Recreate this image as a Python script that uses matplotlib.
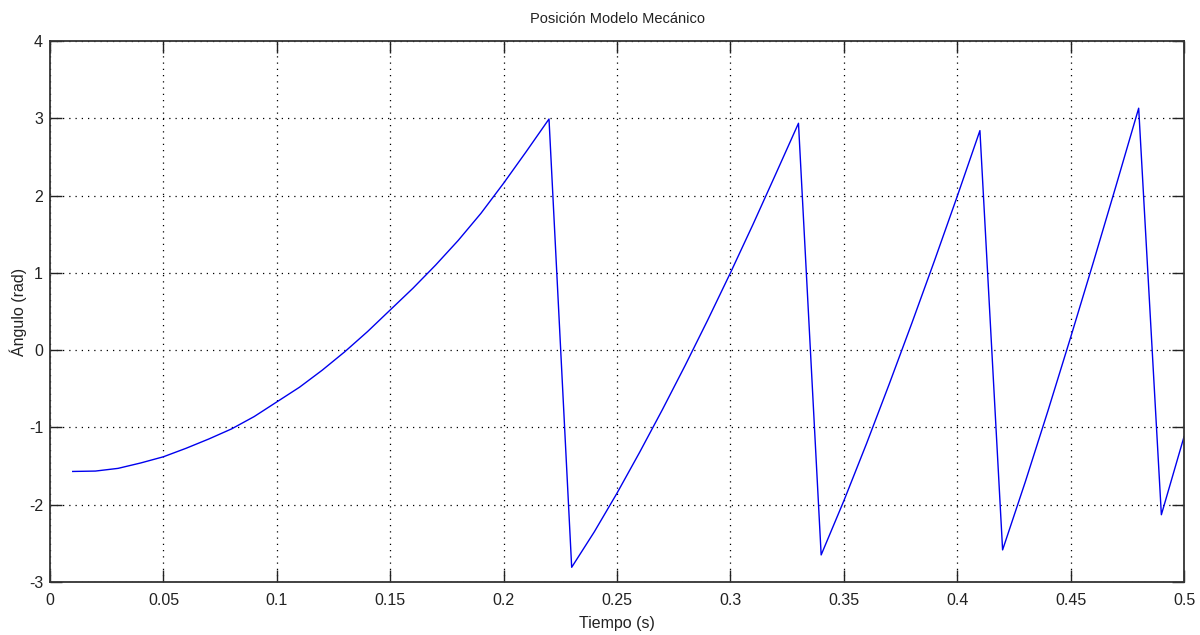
import matplotlib
matplotlib.use("Agg")
import matplotlib.pyplot as plt

# Data
tiempo = [0.01, 0.02, 0.03, 0.04, 0.05, 0.06, 0.07, 0.08, 0.09, 0.10,
          0.11, 0.12, 0.13, 0.14, 0.15, 0.16, 0.17, 0.18, 0.19, 0.20,
          0.21, 0.22, 0.23, 0.24, 0.25, 0.26, 0.27, 0.28, 0.29, 0.30,
          0.31, 0.32, 0.33, 0.34, 0.35, 0.36, 0.37, 0.38, 0.39, 0.40,
          0.41, 0.42, 0.43, 0.44, 0.45, 0.46, 0.47, 0.48, 0.49, 0.50]
angulo = [-1.57, -1.565, -1.53, -1.46, -1.38, -1.27, -1.15, -1.02, -0.86, -0.67,
          -0.48, -0.26, -0.02, 0.24, 0.52, 0.80, 1.10, 1.42, 1.77, 2.16,
          2.57, 2.99, -2.81, -2.35, -1.85, -1.32, -0.77, -0.20, 0.39, 1.00,
          1.63, 2.28, 2.935, -2.65, -1.95, -1.21, -0.44, 0.35, 1.16, 1.99,
          2.84, -2.585, -1.705, -0.785, 0.165, 1.135, 2.125, 3.13, -2.13, -1.12]

xticks = [0, 0.05, 0.1, 0.15, 0.2, 0.25, 0.3, 0.35, 0.4, 0.45, 0.5]
xticklabels = ["0", "0.05", "0.1", "0.15", "0.2", "0.25", "0.3", "0.35", "0.4", "0.45", "0.5"]
yticks = [-3, -2, -1, 0, 1, 2, 3, 4]
yticklabels = ["-3", "-2", "-1", "0", "1", "2", "3", "4"]

titulo = "Posición Modelo Mecánico"
xlabel = "Tiempo (s)"
ylabel = "Ángulo (rad)"

plt.rcParams['font.family'] = ['Liberation Sans', 'DejaVu Sans']

fig = plt.figure(figsize=(12, 6.35), dpi=100)
ax = fig.add_axes([0.0417, 0.0835, 0.9450, 0.852])

ax.plot(tiempo, angulo, color='#0000ee', lw=1.0)

ax.set_xlim(0, 0.5)
ax.set_ylim(-3, 4)
ax.set_xticks(xticks)
ax.set_xticklabels(xticklabels)
ax.set_yticks(yticks)
ax.set_yticklabels(yticklabels)

ax.grid(True, color='black', linestyle=(0, (1, 4)), linewidth=0.9)
ax.tick_params(direction='in', length=8.5, width=1.0, top=True, right=True,
               labelsize=11.5, colors='#222222')
ax.tick_params(axis='x', pad=8)
ax.tick_params(axis='y', pad=5)
for s in ax.spines.values():
    s.set_linewidth(1.3)
    s.set_color('#333333')

ax.set_title(titulo, fontsize=10.5, pad=13, color='#222222')
ax.set_xlabel(xlabel, fontsize=11.5, labelpad=6, color='#222222')
ax.set_ylabel(ylabel, fontsize=11.5, color='#222222')
ax.yaxis.set_label_coords(-0.020, 0.5)

fig.savefig("out.png", dpi=100, facecolor='white')
